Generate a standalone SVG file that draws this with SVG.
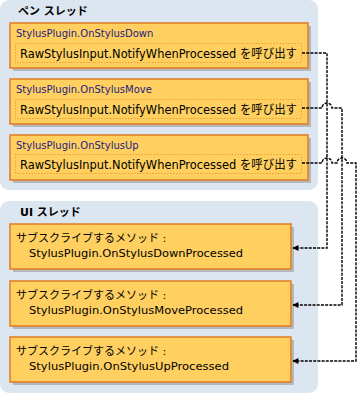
<svg xmlns="http://www.w3.org/2000/svg" width="359" height="393" viewBox="0 0 359 393">
  <defs>
    <style>
      .panel { fill: #dce6f0; }
      .head { font-family: "DejaVu Sans", "Noto Sans CJK JP", sans-serif; font-size: 11px; font-weight: bold; fill: #000; }
      .box { fill: #ffd060; stroke: #e07b20; stroke-width: 1.5; }
      .shadow { fill: #9a9a9a; opacity: 0.6; }
      .inner { fill: none; stroke: #f0a030; stroke-width: 1; stroke-dasharray: 1.5 1.5; }
      .title { font-family: "DejaVu Sans", "Noto Sans CJK JP", sans-serif; font-size: 10px; fill: #1c1c80; }
      .call { font-family: "DejaVu Sans", "Noto Sans CJK JP", sans-serif; font-size: 12px; fill: #000; }
      .sub { font-family: "DejaVu Sans", "Noto Sans CJK JP", sans-serif; font-size: 11px; fill: #000; }
      .wire { fill: none; stroke: #000; stroke-width: 1.4; stroke-dasharray: 3 1.2; }
    </style>
    <marker id="arrow" viewBox="0 0 10 10" refX="9" refY="5" markerWidth="7" markerHeight="6" orient="auto-start-reverse" markerUnits="userSpaceOnUse">
      <path d="M0,0 L10,5 L0,10 z" fill="#000"/>
    </marker>
  </defs>

  <!-- thread panels -->
  <g id="pen-thread">
    <rect class="panel" x="0" y="0" width="318" height="190" rx="9"/>
    <text class="head" x="18" y="15">ペン スレッド</text>
  </g>
  <g id="ui-thread">
    <rect class="panel" x="0" y="201" width="318" height="192" rx="9"/>
    <text class="head" x="20" y="216">UI スレッド</text>
  </g>

  <!-- pen thread plugin methods -->
  <g id="on-stylus-down">
    <rect class="shadow" x="13" y="26" width="298" height="45"/>
    <rect class="box" x="10" y="23" width="298" height="45"/>
    <text class="title" x="16" y="37">StylusPlugin.OnStylusDown</text>
    <rect class="inner" x="15.5" y="43.5" width="286" height="19"/>
    <text class="call" x="20" y="58" textLength="277" lengthAdjust="spacingAndGlyphs">RawStylusInput.NotifyWhenProcessed を呼び出す</text>
  </g>
  <g id="on-stylus-move">
    <rect class="shadow" x="13" y="82" width="298" height="45"/>
    <rect class="box" x="10" y="79" width="298" height="45"/>
    <text class="title" x="16" y="93">StylusPlugin.OnStylusMove</text>
    <rect class="inner" x="15.5" y="99.5" width="286" height="19"/>
    <text class="call" x="20" y="114" textLength="277" lengthAdjust="spacingAndGlyphs">RawStylusInput.NotifyWhenProcessed を呼び出す</text>
  </g>
  <g id="on-stylus-up">
    <rect class="shadow" x="13" y="138" width="298" height="45"/>
    <rect class="box" x="10" y="135" width="298" height="45"/>
    <text class="title" x="16" y="149">StylusPlugin.OnStylusUp</text>
    <rect class="inner" x="15.5" y="154.5" width="286" height="19"/>
    <text class="call" x="20" y="169" textLength="277" lengthAdjust="spacingAndGlyphs">RawStylusInput.NotifyWhenProcessed を呼び出す</text>
  </g>

  <!-- UI thread subscribed methods -->
  <g id="down-processed">
    <rect class="shadow" x="13" y="227" width="281" height="45"/>
    <rect class="box" x="10" y="224" width="281" height="45"/>
    <text class="sub" x="16" y="242">サブスクライブするメソッド :</text>
    <text class="sub" x="29" y="257" textLength="214" lengthAdjust="spacingAndGlyphs">StylusPlugin.OnStylusDownProcessed</text>
  </g>
  <g id="move-processed">
    <rect class="shadow" x="13" y="284" width="281" height="45"/>
    <rect class="box" x="10" y="281" width="281" height="45"/>
    <text class="sub" x="16" y="299">サブスクライブするメソッド :</text>
    <text class="sub" x="29" y="314" textLength="214" lengthAdjust="spacingAndGlyphs">StylusPlugin.OnStylusMoveProcessed</text>
  </g>
  <g id="up-processed">
    <rect class="shadow" x="13" y="340" width="281" height="45"/>
    <rect class="box" x="10" y="337" width="281" height="45"/>
    <text class="sub" x="16" y="355">サブスクライブするメソッド :</text>
    <text class="sub" x="29" y="370" textLength="200" lengthAdjust="spacingAndGlyphs">StylusPlugin.OnStylusUpProcessed</text>
  </g>

  <!-- notification connectors, with hops where they cross -->
  <g id="connectors">
    <path class="wire" marker-end="url(#arrow)" d="M302,53 H327 V248 H293"/>
    <path class="wire" marker-end="url(#arrow)" d="M302,108 H322 A5,5 0 0 1 332,108 H342 V305 H293"/>
    <path class="wire" marker-end="url(#arrow)" d="M302,163 H322 A5,5 0 0 1 332,163 H337 A5,5 0 0 1 347,163 H356 V361 H293"/>
  </g>
</svg>
